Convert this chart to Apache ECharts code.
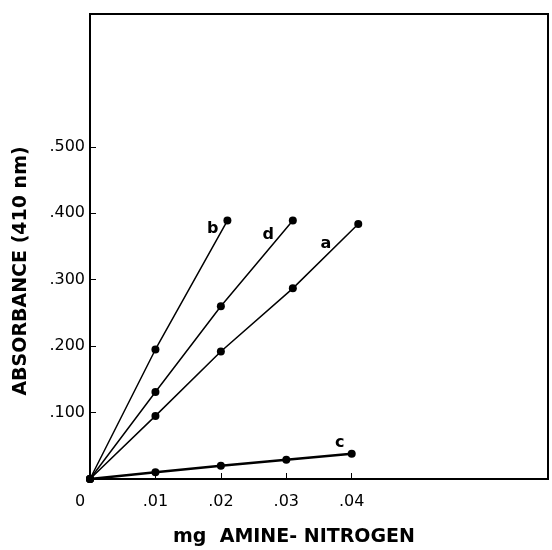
<!DOCTYPE html>
<html>
<head>
<meta charset="utf-8">
<script src="https://cdn.jsdelivr.net/npm/echarts@6/dist/echarts.min.js"></script>
<style>
  html, body { margin: 0; padding: 0; background: #fff; }
  #chart { width: 552px; height: 550px; }
</style>
</head>
<body>
<div id="chart"></div>
<script>
// mg amine-nitrogen vs absorbance at 410 nm
var curveA = [[0, 0], [0.01, 0.095], [0.02, 0.192], [0.031, 0.287], [0.041, 0.384]];
var curveB = [[0, 0], [0.01, 0.195], [0.021, 0.389]];
var curveC = [[0, 0], [0.01, 0.01], [0.02, 0.02], [0.03, 0.029], [0.04, 0.038]];
var curveD = [[0, 0], [0.01, 0.131], [0.02, 0.26], [0.031, 0.389]];
var xTicks = [0.01, 0.02, 0.03, 0.04];
var xLabels = [0, 0.01, 0.02, 0.03, 0.04];
var yTicks = [0.1, 0.2, 0.3, 0.4, 0.5];

var font = "DejaVu Sans";
var chart = echarts.init(document.getElementById("chart"));

function curve(name, data, width, labelPos, labelOffset) {
    var pts = data.map(function(p, i) {
        if (i != data.length - 1) return p;
        return {
            value: p,
            label: { show: true, formatter: name, position: labelPos, offset: labelOffset }
        };
    });
    return {
        name: name,
        type: "line",
        data: pts,
        symbol: "circle",
        symbolSize: 8,
        showSymbol: true,
        lineStyle: { color: "#000", width: width },
        itemStyle: { color: "#000" },
        label: { color: "#000", fontFamily: font, fontSize: 16, fontWeight: "bold" },
        z: 3
    };
}

var option = {
    animation: false,
    graphic: [
        {
            type: "text", x: 294, y: 537,
            style: {
                text: "mg  AMINE- NITROGEN", align: "center", verticalAlign: "middle",
                font: "bold 19px " + font, fill: "#000"
            }
        },
        {
            type: "text", x: 21, y: 271, rotation: Math.PI / 2,
            style: {
                text: "ABSORBANCE (410 nm)", align: "center", verticalAlign: "middle",
                font: "bold 19px " + font, fill: "#000"
            }
        }
    ],
    grid: {
        left: 90, right: 4, top: 14, bottom: 71,
        show: true, borderColor: "#000", borderWidth: 2, backgroundColor: "transparent"
    },
    xAxis: {
        type: "value",
        min: 0, max: 0.07, interval: 0.01,
        splitLine: { show: false },
        axisLine: { lineStyle: { color: "#000", width: 2 } },
        axisTick: { inside: true, length: 6, customValues: xTicks, lineStyle: { color: "#000" } },
        axisLabel: {
            customValues: xLabels,
            margin: 15,
            color: "#000", fontFamily: font, fontSize: 16,
            rich: { z: { fontFamily: font, fontSize: 16, color: "#000", padding: [0, 20, 0, 0] } },
            formatter: function(v) { return v == 0 ? "{z|0}" : v.toFixed(2).replace(/^0/, ""); }
        }
    },
    yAxis: {
        type: "value",
        min: 0, max: 0.7, interval: 0.1,
        splitLine: { show: false },
        axisLine: { lineStyle: { color: "#000", width: 1.5 } },
        axisTick: { inside: true, length: 6, customValues: yTicks, lineStyle: { color: "#000" } },
        axisLabel: {
            customValues: yTicks,
            margin: 5,
            color: "#000", fontFamily: font, fontSize: 16,
            formatter: function(v) { return v.toFixed(3).replace(/^0/, ""); }
        }
    },
    series: [
        curve("a", curveA, 1.5, "left", [-18, 20]),
        curve("b", curveB, 1.5, "left", [0, 8]),
        curve("c", curveC, 2.5, "top", [-12, 6]),
        curve("d", curveD, 1.5, "left", [-10, 14])
    ]
};
chart.setOption(option);
</script>
</body>
</html>
